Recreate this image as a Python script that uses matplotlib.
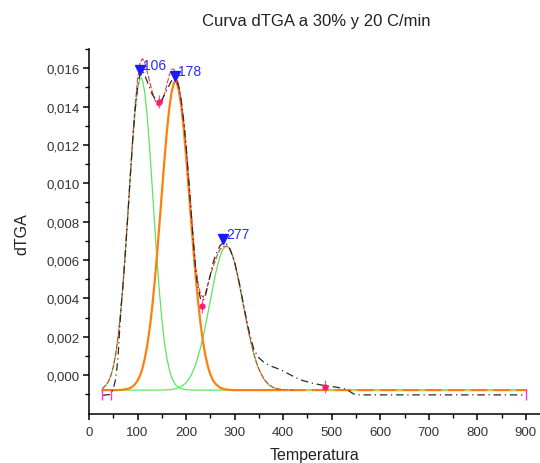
import numpy as np
import matplotlib
matplotlib.use("Agg")
import matplotlib.pyplot as plt
from matplotlib.ticker import FixedLocator, FixedFormatter

plt.rcParams['font.family'] = ['Liberation Sans', 'DejaVu Sans']

# ---- data (dTGA values in units of 1e-3) ----
g1_T = [28, 30, 35, 40, 45, 50, 55, 60, 65, 70, 75, 80, 85, 90, 95, 100, 105, 107.5, 110, 115, 120,
        125, 130, 135, 140, 145, 150, 155, 160, 165, 170, 175, 180, 190, 200, 215, 230, 900]
g1_v = [-0.67, -0.64, -0.52, -0.33, -0.03, 0.43, 1.09, 2.00, 3.20, 4.67, 6.41, 8.32, 10.29, 12.16, 13.75,
        14.89, 15.47, 15.51, 15.40, 14.71, 13.46, 11.80, 9.90, 7.93, 6.04, 4.36, 2.93, 1.80, 0.94, 0.33,
        -0.10, -0.38, -0.55, -0.71, -0.76, -0.78, -0.78, -0.78]

or_T = [28, 60, 70, 80, 85, 90, 95, 100, 105, 110, 115, 120, 125, 130, 135, 140, 145, 150, 155, 160, 165,
        170, 175, 177.5, 180, 185, 190, 195, 200, 205, 210, 215, 220, 225, 230, 235, 240, 245, 250, 255,
        260, 270, 280, 290, 300, 900]
or_v = [-0.78, -0.78, -0.76, -0.715, -0.67, -0.59, -0.47, -0.29, -0.03, 0.35, 0.87, 1.55, 2.43, 3.50, 4.79,
        6.24, 7.83, 9.48, 11.10, 12.59, 13.83, 14.74, 15.24, 15.32, 15.28, 14.87, 14.04, 12.86, 11.41, 9.81,
        8.16, 6.55, 5.06, 3.75, 2.63, 1.71, 0.99, 0.44, 0.04, -0.25, -0.44, -0.66, -0.74, -0.77, -0.78,
        -0.78]

g3_T = [28, 150, 170, 180, 190, 200, 210, 220, 230, 235, 240, 245, 250, 255, 260, 265, 270, 275, 280, 285,
        290, 295, 300, 305, 310, 315, 320, 325, 330, 335, 340, 345, 350, 360, 370, 380, 390, 400, 420, 900]
g3_v = [-0.78, -0.78, -0.75, -0.70, -0.60, -0.40, -0.03, 0.57, 1.45, 1.99, 2.59, 3.24, 3.90, 4.56, 5.19, 5.74,
        6.19, 6.52, 6.69, 6.71, 6.56, 6.27, 5.84, 5.30, 4.69, 4.04, 3.37, 2.72, 2.11, 1.55, 1.06, 0.64,
        0.30, -0.20, -0.50, -0.65, -0.73, -0.76, -0.78, -0.78]

fit_T = [28, 30, 35, 40, 45, 50, 55, 60, 65, 70, 75, 80, 85, 90, 95, 100, 105, 110, 115, 120, 125, 130,
         135, 140, 145, 150, 155, 160, 165, 170, 175, 180, 185, 190, 195, 200, 205, 210, 215, 220, 225,
         230, 235, 240, 245, 250, 255, 260, 265, 270, 275, 280, 285, 290, 295, 300, 305, 310, 315, 320,
         325, 330, 335, 340, 345, 350, 360, 370, 380, 390, 400, 420]
fit_v = [-0.74, -0.64, -0.52, -0.33, -0.03, 0.43, 1.10, 2.01, 3.22, 4.69, 6.44, 8.38, 10.40, 12.35, 14.06,
         15.40, 16.25, 16.50, 16.30, 15.80, 15.30, 14.80, 14.40, 14.10, 14.00, 14.20, 14.60, 15.10, 15.60,
         15.95, 15.95, 15.60, 15.10, 14.30, 13.30, 12.00, 10.40, 8.80, 7.10, 5.60, 4.70, 4.20, 4.05, 4.30,
         4.75, 5.20, 5.60, 5.95, 6.30, 6.55, 6.68, 6.72, 6.72, 6.58, 6.30, 5.88, 5.32, 4.71, 4.05, 3.38,
         2.73, 2.11, 1.56, 1.07, 0.65, 0.31, -0.19, -0.49, -0.65, -0.72, -0.76, -0.78]

dat_T = [28, 35, 42, 45, 48, 51, 54, 57, 60, 63, 66, 70, 75, 80, 85, 90, 95, 100, 106, 112, 120, 130,
         140, 145, 150, 160, 170, 178, 185, 190, 195, 200, 205, 210, 215, 220, 225, 230, 235, 240, 245,
         250, 255, 260, 270, 277, 285, 290, 300, 310, 320, 330, 340, 350, 360, 370, 380, 393, 410, 425,
         440, 460, 486, 510, 530, 545, 555, 900]
dat_v = [-1.05, -1.03, -1.02, -0.97, -0.85, -0.62, -0.30, 0.25, 1.00, 2.30, 3.50, 4.70, 6.45, 8.35, 10.35,
         12.25, 13.85, 15.00, 15.85, 15.80, 15.30, 14.65, 14.25, 14.20, 14.35, 14.85, 15.35, 15.50, 15.05,
         14.30, 13.25, 11.95, 10.30, 8.60, 6.90, 5.40, 4.50, 3.95, 3.88, 4.15, 4.70, 5.25, 5.80, 6.20,
         6.75, 6.92, 6.80, 6.60, 5.90, 4.75, 3.45, 2.25, 1.30, 0.90, 0.68, 0.53, 0.42, 0.30, 0.08, -0.12,
         -0.28, -0.42, -0.55, -0.63, -0.74, -0.98, -1.03, -1.03]

peak_T = [106, 178, 277]
peak_v = [15.9, 15.6, 7.1]
peak_labels = ['106', '178', '277']

pt_T = [144, 232, 486]
pt_v = [14.25, 3.6, -0.6]

anchor_T = [27.5, 45, 900]
anchor_v = [-1.0, -1.02, -1.0]

xticks = [0, 100, 200, 300, 400, 500, 600, 700, 800, 900]
xminor = [50, 150, 250, 350, 450, 550, 650, 750, 850]
yticks = [0.000, 0.002, 0.004, 0.006, 0.008, 0.010, 0.012, 0.014, 0.016]
ytick_labels = ['0,000', '0,002', '0,004', '0,006', '0,008', '0,010', '0,012', '0,014', '0,016']
yminor = [-0.001, 0.001, 0.003, 0.005, 0.007, 0.009, 0.011, 0.013, 0.015, 0.017]

s = 1e-3
fig = plt.figure(figsize=(5.4, 4.64), dpi=100)
ax = fig.add_axes([89 / 540, 49.5 / 464, 451 / 540, 364.5 / 464])

GREEN = '#5de65d'
ORANGE = '#ff7f0e'
RED = '#f03a3a'

ax.plot(g1_T, np.array(g1_v) * s, color=GREEN, lw=0.9, zorder=2)
ax.plot(g3_T, np.array(g3_v) * s, color=GREEN, lw=0.9, zorder=2)
ax.plot(or_T, np.array(or_v) * s, color=ORANGE, lw=1.6, zorder=3)
g3T = np.array(g3_T); g3v = np.array(g3_v)
m = g3T >= 400
ax.plot(g3T[m], g3v[m] * s, color='#9be86a', lw=1.2, linestyle=(0, (3.6, 10)), zorder=4)
ax.plot(fit_T, np.array(fit_v) * s, color=RED, lw=0.8, linestyle=(0, (5, 1.5)), zorder=5)
ax.plot(dat_T, np.array(dat_v) * s, color='#2a2a2a', lw=0.9, linestyle=(0, (6, 3, 1, 3)), zorder=6)

ax.errorbar(pt_T, np.array(pt_v) * s, yerr=0.35 * s, fmt='o', ms=3.5, color='#ff1a6e',
            ecolor='#ff44cc', elinewidth=0.8, capsize=0, zorder=7)
ax.errorbar(anchor_T, np.array(anchor_v) * s, yerr=0.28 * s, fmt='none', ecolor='#ff33dd',
            elinewidth=1.0, capsize=0, zorder=7)
ax.plot(peak_T, np.array(peak_v) * s, linestyle='none', marker='v', ms=7, color='#1a1aff', zorder=8)
for t, v, lab in zip(peak_T, peak_v, peak_labels):
    ax.annotate(lab, (t, v * s), xytext=(3, 5), textcoords='offset pixels', ha='left', va='center',
                fontsize=10, color='#2a2aff', zorder=9)

ax.set_xlim(0, 929)
ax.set_ylim(-0.002, 0.017)
ax.xaxis.set_major_locator(FixedLocator(xticks))
ax.xaxis.set_minor_locator(FixedLocator(xminor))
ax.yaxis.set_major_locator(FixedLocator(yticks))
ax.yaxis.set_major_formatter(FixedFormatter(ytick_labels))
ax.yaxis.set_minor_locator(FixedLocator(yminor))
for sp in ['top', 'right']:
    ax.spines[sp].set_visible(False)
for sp in ['left', 'bottom']:
    ax.spines[sp].set_linewidth(1.1)
ax.tick_params(which='major', direction='out', length=4, width=1.1, labelsize=9.5,
               labelcolor='#333333', pad=3)
ax.tick_params(which='minor', direction='out', length=3, width=1.0)
ax.tick_params(axis='x', which='major', pad=5)

fig.text(316.5 / 540, 1 - 21.7 / 464, 'Curva dTGA a 30% y 20 C/min', ha='center', va='center',
         fontsize=12, color='#222222')
fig.text(315 / 540, 1 - 456 / 464, 'Temperatura', ha='center', va='center', fontsize=11.5,
         color='#222222')
fig.text(21.7 / 540, 1 - 234 / 464, 'dTGA', ha='center', va='center', rotation=90, fontsize=11.5,
         color='#222222')

fig.savefig('out.png', dpi=100)
